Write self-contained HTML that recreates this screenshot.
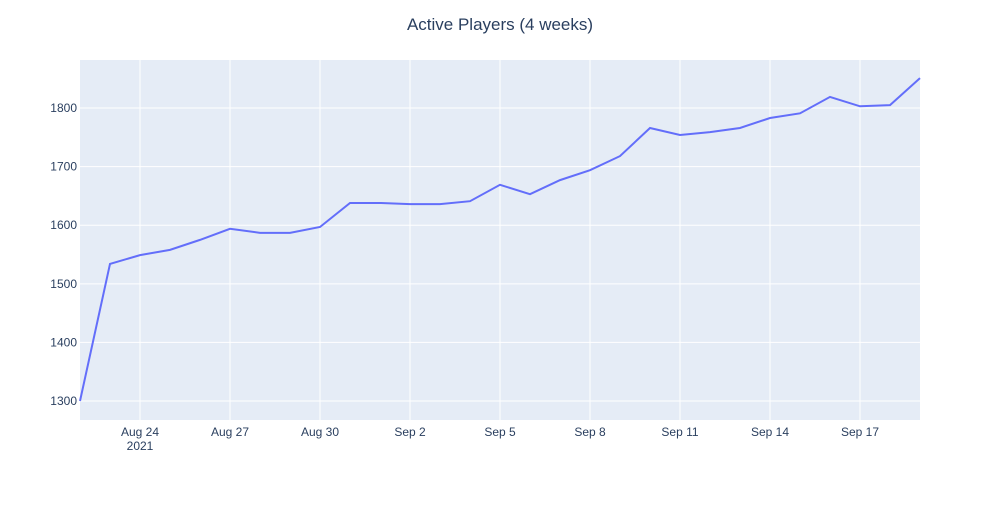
<!DOCTYPE html>
<html><head><meta charset="utf-8">
<style>
body{margin:0;background:#fff;font-family:"Liberation Sans","Open Sans",sans-serif;}
svg text{font-family:"Liberation Sans",sans-serif;}
</style></head>
<body>
<svg id="chart" width="1000" height="500">
<rect x="80" y="60" width="840" height="360" fill="#e5ecf6"/>
<g id="grid"></g>
<g id="xt"></g>
<g id="yt"></g>
<path id="line" fill="none" stroke="#636efa" stroke-width="2"/>
<text x="500" y="30" text-anchor="middle" font-size="17" fill="#2a3f5f">Active Players (4 weeks)</text>
</svg>
<script>
const startDate = [2021, 7, 22];
const values = [1300,1534,1549,1558,1575,1594,1587,1587,1597,1638,1638,1636,1636,1641,1669,1653,1677,1694,1718,1766,1754,1759,1766,1783,1791,1819,1803,1805,1851];
const yTicks = [1300,1400,1500,1600,1700,1800];
const xTickDays = [2,5,8,11,14,17,20,23,26];
const xTickLabels = ["Aug 24","Aug 27","Aug 30","Sep 2","Sep 5","Sep 8","Sep 11","Sep 14","Sep 17"];
const NS="http://www.w3.org/2000/svg";
const x0=80,x1=920,y0=420,y1=60,yMin=1267.6,yMax=1882;
const nDays=values.length-1;
function xs(d){return x0+(x1-x0)*d/nDays;}
function ys(v){return y0-(y0-y1)*(v-yMin)/(yMax-yMin);}
function mk(tag,attrs,parent){const e=document.createElementNS(NS,tag);for(const k in attrs)e.setAttribute(k,attrs[k]);parent.appendChild(e);return e;}
const grid=document.getElementById('grid'),xt=document.getElementById('xt'),yt=document.getElementById('yt');
yTicks.forEach(v=>{
 const g=mk('line',{x1:x0,x2:x1,y1:ys(v),y2:ys(v),stroke:'#fff','stroke-width':1},grid);
 
 
 const t=mk('text',{x:x0-3,y:ys(v)+4,'text-anchor':'end','font-size':12,fill:'#2a3f5f'},yt);
 t.textContent=v;
 
 
});
xTickDays.forEach((d,i)=>{
 const g=mk('line',{x1:xs(d),x2:xs(d),y1:y1,y2:y0,stroke:'#fff','stroke-width':1},grid);
 
 
 const t=mk('text',{x:xs(d),y:436,'text-anchor':'middle','font-size':12,fill:'#2a3f5f'},xt);
 t.textContent=xTickLabels[i];
 
 
});
const yr=mk('text',{x:xs(xTickDays[0]),y:450,'text-anchor':'middle','font-size':12,fill:'#2a3f5f'},xt);
yr.textContent=String(startDate[0]);


document.getElementById('line').setAttribute('d',values.map((v,i)=>(i?'L':'M')+xs(i)+','+ys(v)).join(''));
</script>
</body></html>
